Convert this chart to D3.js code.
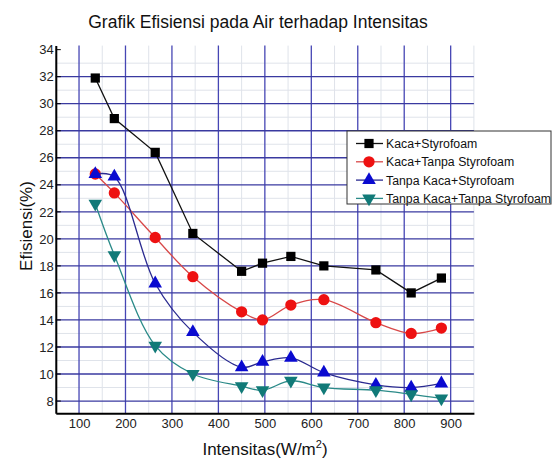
<!DOCTYPE html>
<html><head><meta charset="utf-8">
<script src="https://cdn.jsdelivr.net/npm/d3@7"></script>
<style>html,body{margin:0;padding:0;background:#fff;}svg{display:block;font-family:"Liberation Sans",Arial,sans-serif;}</style>
</head><body>
<script>
const intensitas = [135, 176, 264, 345, 450, 495, 556, 627, 739, 815, 880];
const kacaStyro = [31.9, 28.9, 26.4, 20.4, 17.6, 18.2, 18.7, 18.0, 17.7, 16.0, 17.1];
const kacaTanpaStyro = [24.8, 23.4, 20.1, 17.2, 14.6, 14.0, 15.1, 15.5, 13.8, 13.0, 13.4];
const tanpaKacaStyro = [24.8, 24.6, 16.7, 13.1, 10.5, 10.9, 11.2, 10.1, 9.2, 9.0, 9.3];
const tanpaKacaTanpaStyro = [22.6, 18.8, 12.1, 10.0, 9.1, 8.8, 9.5, 9.0, 8.8, 8.5, 8.2];
const seriesNames = ["Kaca+Styrofoam", "Kaca+Tanpa Styrofoam", "Tanpa Kaca+Styrofoam", "Tanpa Kaca+Tanpa Styrofoam"];
const xTicks = [100, 200, 300, 400, 500, 600, 700, 800, 900];
const yTicks = [8, 10, 12, 14, 16, 18, 20, 22, 24, 26, 28, 30, 32, 34];

const W = 556, H = 461;
const svg = d3.select("body").append("svg").attr("width", W).attr("height", H);

const x = d3.scaleLinear().domain([50, 950]).range([55.8, 473.9]);
const y = d3.scaleLinear().domain([7.1, 34.3]).range([413.2, 45.6]);

const series = [
  {name: seriesNames[0], vals: kacaStyro, color: "#000000", line: "#111111", sym: d3.symbolSquare, size: 85, rot: 0, curve: d3.curveLinear},
  {name: seriesNames[1], vals: kacaTanpaStyro, color: "#ee1111", line: "#d84848", sym: d3.symbolCircle, size: 100, rot: 0, curve: d3.curveCatmullRom},
  {name: seriesNames[2], vals: tanpaKacaStyro, color: "#0a0ad0", line: "#2a2a90", sym: d3.symbolTriangle, size: 80, rot: 0, curve: d3.curveCatmullRom},
  {name: seriesNames[3], vals: tanpaKacaTanpaStyro, color: "#117a78", line: "#2a8a88", sym: d3.symbolTriangle, size: 80, rot: 180, curve: d3.curveCatmullRom}
];

// minor grid
const g = svg.append("g");
const minorY = d3.range(8, 34.01, 1).filter(v => v % 2 !== 0);
const minorX = d3.range(50, 951, 50).filter(v => v % 100 !== 0);
g.selectAll(".mx").data(minorX).enter().append("line")
  .attr("x1", d => x(d)).attr("x2", d => x(d)).attr("y1", y(34.3)).attr("y2", y(7.1))
  .attr("stroke", "#dfe3ea").attr("stroke-width", 1);
g.selectAll(".my").data(minorY).enter().append("line")
  .attr("x1", x(50)).attr("x2", x(950)).attr("y1", d => y(d)).attr("y2", d => y(d))
  .attr("stroke", "#dfe3ea").attr("stroke-width", 1);
// major grid
g.selectAll(".Mx").data(xTicks).enter().append("line")
  .attr("x1", d => x(d)).attr("x2", d => x(d)).attr("y1", y(34.3)).attr("y2", y(7.1))
  .attr("stroke", "#4646b4").attr("stroke-width", 1.3);
g.selectAll(".My").data(yTicks.filter(v => v < 34)).enter().append("line")
  .attr("x1", x(50)).attr("x2", x(950)).attr("y1", d => y(d)).attr("y2", d => y(d))
  .attr("stroke", "#3a3aa0").attr("stroke-width", 1.3);

// axes
const xAxis = svg.append("g").attr("transform", `translate(0,${y(7.1)})`)
  .call(d3.axisBottom(x).tickValues(xTicks).tickSize(0).tickPadding(6));
xAxis.select(".domain").attr("stroke", "#000").attr("stroke-width", 2);
xAxis.selectAll("text").attr("font-size", 13).attr("fill", "#222").attr("font-family", "Liberation Sans, Arial, sans-serif");

const yAxis = svg.append("g").attr("transform", `translate(${x(50)},0)`)
  .call(d3.axisLeft(y).tickValues(yTicks).tickSize(0).tickPadding(2));
yAxis.select(".domain").attr("stroke", "#000").attr("stroke-width", 2);
yAxis.selectAll("text").attr("font-size", 13).attr("fill", "#222").attr("font-family", "Liberation Sans, Arial, sans-serif");
// inner ticks
svg.append("g").selectAll("line").data(yTicks).enter().append("line")
  .attr("x1", x(50)).attr("x2", x(50) + 5).attr("y1", d => y(d)).attr("y2", d => y(d))
  .attr("stroke", "#000").attr("stroke-width", 1);

// lines and markers
series.forEach(s => {
  const pts = intensitas.map((v, i) => [v, s.vals[i]]);
  svg.append("path").datum(pts)
    .attr("d", d3.line().x(d => x(d[0])).y(d => y(d[1])).curve(s.curve))
    .attr("fill", "none").attr("stroke", s.line).attr("stroke-width", 1.3);
  svg.append("g").selectAll("path").data(pts).enter().append("path")
    .attr("d", d3.symbol().type(s.sym).size(s.size))
    .attr("transform", d => `translate(${x(d[0])},${y(d[1])}) rotate(${s.rot})`)
    .attr("fill", s.color);
});

// title
svg.append("text").attr("x", 258).attr("y", 28).attr("text-anchor", "middle")
  .attr("font-size", 17.5).attr("fill", "#111").text("Grafik Efisiensi pada Air terhadap Intensitas");

// axis labels
svg.append("text").attr("transform", "translate(32,226) rotate(-90)").attr("text-anchor", "middle")
  .attr("font-size", 17).attr("fill", "#111").text("Efisiensi(%)");
const xl = svg.append("text").attr("x", 265).attr("y", 455).attr("text-anchor", "middle")
  .attr("font-size", 17).attr("fill", "#111");
xl.append("tspan").text("Intensitas(W/m");
xl.append("tspan").attr("font-size", 11).attr("dy", -7).text("2");
xl.append("tspan").attr("dy", 7).text(")");

// legend
const lg = {x0: 347, y0: 131, w: 204, h: 73};
svg.append("rect").attr("x", lg.x0).attr("y", lg.y0).attr("width", lg.w).attr("height", lg.h)
  .attr("fill", "#fff").attr("stroke", "#333").attr("stroke-width", 1);
const leg = svg.append("g");
series.forEach((s, i) => {
  const yy = 143.5 + i * 18.3;
  leg.append("line").attr("x1", 356).attr("x2", 383).attr("y1", yy).attr("y2", yy)
    .attr("stroke", s.line).attr("stroke-width", 1.3);
  leg.append("path").attr("d", d3.symbol().type(s.sym).size(s.size))
    .attr("transform", `translate(369,${yy}) rotate(${s.rot})`).attr("fill", s.color);
  leg.append("text").attr("x", 386).attr("y", yy + 4.5).attr("font-size", 12.3)
    .attr("fill", "#111").text(s.name);
});
</script>
</body></html>
